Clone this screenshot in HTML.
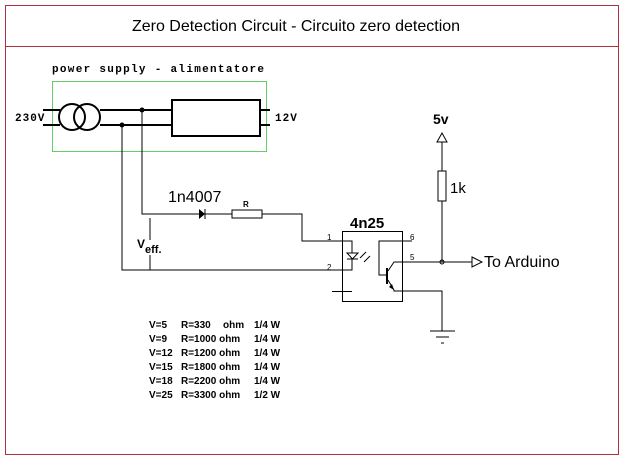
<!DOCTYPE html>
<html><head><meta charset="utf-8"><style>
body{margin:0;background:#fff;}
svg{display:block}
text{font-family:"Liberation Sans",Arial,sans-serif;fill:#000}
.m{font-family:"Liberation Mono",monospace;font-weight:bold;font-size:11px}
.t{font-weight:bold;font-size:10px}
</style></head><body>
<svg width="626" height="461" viewBox="0 0 626 461" xmlns="http://www.w3.org/2000/svg">
<rect x="5.5" y="5.5" width="613" height="449" fill="none" stroke="#b03040" stroke-width="1"/>
<line x1="5" y1="46.5" x2="619" y2="46.5" stroke="#b03040"/>
<text x="296" y="31" font-size="16" text-anchor="middle">Zero Detection Circuit - Circuito zero detection</text>

<text x="52" y="72" class="m" letter-spacing="1.3">power supply - alimentatore</text>
<rect x="52.5" y="81.5" width="214" height="70" fill="none" stroke="#6c6" stroke-width="1"/>
<text x="15" y="121" class="m" letter-spacing="1">230V</text>
<text x="275" y="121" class="m" letter-spacing="1">12V</text>
<g stroke="#000" fill="none" stroke-width="2">
<line x1="43" y1="110" x2="60" y2="110"/><line x1="43" y1="125" x2="60" y2="125"/>
<circle cx="72" cy="117" r="13"/><circle cx="87" cy="117" r="13"/>
<line x1="100" y1="110" x2="172" y2="110"/><line x1="100" y1="125" x2="172" y2="125"/>
<rect x="172" y="100" width="88" height="36"/>
<line x1="260" y1="110" x2="270" y2="110"/><line x1="260" y1="125" x2="270" y2="125"/>
</g>
<circle cx="142" cy="110" r="2.5"/><circle cx="122" cy="125" r="2.5"/>
<g stroke="#000" fill="none" stroke-width="1">
<polyline points="142,110 142,214 232,214"/>
<rect x="232" y="210" width="30" height="8"/>
<polyline points="262,214 302,214 302,241 352,241 352,253"/>
<polyline points="122,125 122,270 352,270 352,259"/>
<line x1="150" y1="218" x2="150" y2="240"/><line x1="150" y1="255" x2="150" y2="270"/>
<line x1="205" y1="209" x2="205" y2="219"/>
<rect x="342.5" y="231.5" width="60" height="70"/>
<line x1="332" y1="291.5" x2="352" y2="291.5"/>
<line x1="347" y1="259" x2="358" y2="259"/>
<polygon points="347,253 358,253 352.5,259"/>
<line x1="360" y1="258" x2="366" y2="252"/><line x1="364" y1="262" x2="370" y2="256"/>
<polyline points="412,241 379,241 379,275 386,275"/>
<line x1="387" y1="268" x2="387" y2="284" stroke-width="2"/>
<polyline points="388,271 394,262 442,262"/>
<polyline points="388,280 394,290 394,291 442,291 442,331"/>
<line x1="430" y1="331" x2="455" y2="331"/><line x1="436" y1="337" x2="449" y2="337"/><line x1="441" y1="343" x2="444" y2="343"/>
<line x1="442" y1="142" x2="442" y2="171"/>
<rect x="438" y="171" width="8" height="30"/>
<line x1="442" y1="201" x2="442" y2="262"/>
<polygon points="437,142 447,142 442,133"/>
<line x1="442" y1="262" x2="472" y2="262"/>
<polygon points="472,257 482,262 472,267"/>
<circle cx="442" cy="262" r="2"/>
</g>
<polygon points="199,209 199,219 205,214" fill="#000"/>
<polygon points="394,290 389,287 392,284" fill="#000"/>
<text x="168" y="202" font-size="16">1n4007</text>
<text x="243" y="207" font-size="8" font-weight="bold">R</text>
<text x="137" y="248" font-size="12" font-weight="bold">V</text>
<text x="145" y="253" font-size="11" font-weight="bold">eff.</text>
<text x="327" y="240" font-size="8">1</text>
<text x="327" y="270" font-size="8">2</text>
<text x="410" y="240" font-size="8">6</text>
<text x="410" y="260" font-size="8">5</text>
<text x="350" y="228" font-size="15" font-weight="bold">4n25</text>
<text x="433" y="124" font-size="14" font-weight="bold">5v</text>
<text x="450" y="193" font-size="15">1k</text>
<text x="484" y="267" font-size="16">To Arduino</text>
<g class="t">
<text x="149" y="328" class="t">V=5</text><text x="181" y="328" class="t">R=330</text><text x="223" y="328" class="t">ohm</text><text x="254" y="328" class="t">1/4 W</text>
<text x="149" y="342" class="t">V=9</text><text x="181" y="342" class="t">R=1000 ohm</text><text x="254" y="342" class="t">1/4 W</text>
<text x="149" y="356" class="t">V=12</text><text x="181" y="356" class="t">R=1200 ohm</text><text x="254" y="356" class="t">1/4 W</text>
<text x="149" y="370" class="t">V=15</text><text x="181" y="370" class="t">R=1800 ohm</text><text x="254" y="370" class="t">1/4 W</text>
<text x="149" y="384" class="t">V=18</text><text x="181" y="384" class="t">R=2200 ohm</text><text x="254" y="384" class="t">1/4 W</text>
<text x="149" y="398" class="t">V=25</text><text x="181" y="398" class="t">R=3300 ohm</text><text x="254" y="398" class="t">1/2 W</text>
</g>
</svg>
</body></html>
